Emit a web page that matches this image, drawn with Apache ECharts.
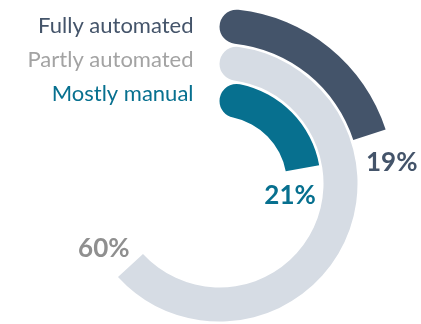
<!DOCTYPE html>
<html>
<head>
<meta charset="utf-8">
<style>
  html, body { margin: 0; padding: 0; background: #ffffff; }
  #chart { width: 421px; height: 324px; }
</style>
<script src="https://cdn.jsdelivr.net/npm/echarts@6/dist/echarts.min.js"></script>
</head>
<body>
<div id="chart"></div>
<script>
// Rings from the innermost outwards
const categories = ['Mostly manual', 'Partly automated', 'Fully automated'];
const shares = [21, 60, 19];
const ringColors = ['#07708f', '#d6dce4', '#44546a'];
const nameColors = ['#07708f', '#a3a3a3', '#44546a'];
const valueColors = ['#07708f', '#8f8f8f', '#44546a'];
const valueOffsets = [[-39, 22], [-49, -13], [-5, 23]];
const nameLift = [10, 6, 0];

const FONT = 'Lato, "Open Sans", sans-serif';

const chart = echarts.init(document.getElementById('chart'), null, { renderer: 'canvas' });

// One rich style per ring name so each gets its own colour and nudge
const nameRich = {};
categories.forEach(function (c, i) {
  nameRich['n' + i] = {
    color: nameColors[i],
    fontFamily: FONT,
    fontSize: 22,
    padding: [0, 0, nameLift[i], 0]
  };
});

const option = {
  animation: false,
  polar: {
    center: ['52.14%', '56.64%'],
    radius: [66, 176]
  },
  angleAxis: {
    type: 'value',
    min: 0,
    max: 95,
    startAngle: 90,
    clockwise: true,
    show: false
  },
  radiusAxis: {
    type: 'category',
    data: categories,
    axisLine: { show: false },
    axisTick: { show: false },
    splitLine: { show: false },
    axisLabel: {
      interval: 0,
      margin: 26,
      fontFamily: FONT,
      fontSize: 22,
      formatter: function (value, index) {
        return '{n' + index + '|' + value + '}';
      },
      rich: nameRich
    }
  },
  series: [{
    type: 'bar',
    coordinateSystem: 'polar',
    barWidth: 34,
    data: shares.map(function (v, i) {
      return {
        value: v,
        itemStyle: {
          color: ringColors[i],
          borderRadius: [17, 0, 17, 0]
        },
        label: {
          show: true,
          position: 'end',
          rotate: 0,
          offset: valueOffsets[i],
          formatter: '{c}%',
          fontFamily: FONT,
          fontWeight: 'bold',
          fontSize: 26,
          color: valueColors[i]
        }
      };
    })
  }]
};

chart.setOption(option);
</script>
</body>
</html>
